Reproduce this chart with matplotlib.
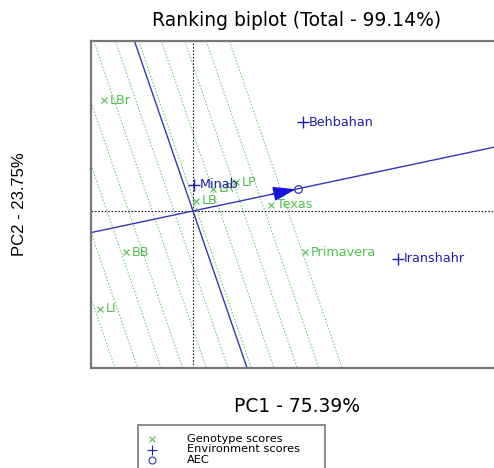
import numpy as np
import matplotlib
matplotlib.use("Agg")
from matplotlib import pyplot as plt
from matplotlib.patches import Rectangle
from matplotlib.lines import Line2D

# genotype scores (PC1, PC2)
gen_names = ['LBr', 'LR', 'LP', 'LB', 'Texas', 'Primavera', 'BB', 'LI']
gen_x = [-1.745, 0.39, 0.84, 0.06, 1.53, 2.20, -1.31, -1.82]
gen_y = [2.775, 0.55, 0.725, 0.25, 0.15, -1.025, -1.025, -2.45]

# environment scores
env_names = ['Behbahan', 'Minab', 'Iranshahr']
env_x = [2.16, 0.02, 4.02]
env_y = [2.225, 0.65, -1.20]

# positions of the ranking lines along the AEC axis
rank_t = [-2.50, -2.07, -1.63, -1.22, -0.77, -0.36, 0.08, 0.51, 0.95, 1.36, 1.80]

title = 'Ranking biplot (Total - 99.14%)'
xlab = 'PC1 - 75.39%'
ylab = 'PC2 - 23.75%'
legend_labels = ['Genotype scores', 'Environment scores', 'AEC']

green = '#4fc04f'
green_line = '#7ccf7c'
blue = '#1e1eaa'
blue_line = '#3535bb'

W, H = 494, 468
fig = plt.figure(figsize=(W / 100, H / 100), dpi=100)
ax = fig.add_axes([91 / W, 100 / H, 410 / W, 327 / H])
ax.set_xlim(-2.0, 6.04)
ax.set_ylim(-3.925, 4.25)
ax.set_xticks([])
ax.set_yticks([])
for s in ax.spines.values():
    s.set_color('#777777')
    s.set_linewidth(1.6)

# average environment coordinate
aec_x = np.mean(env_x)
aec_y = np.mean(env_y)
n = np.hypot(aec_x, aec_y)
ux, uy = aec_x / n, aec_y / n

# ranking lines perpendicular to the AEC
for t in rank_t:
    ax.axline((t * ux, t * uy), slope=-ux / uy, color=green_line, lw=0.8,
              ls=(0, (1.5, 1.5)), zorder=1)

# origin lines
ax.axhline(0, color='#222222', lw=0.8, ls=(0, (1.5, 1.5)), zorder=1)
ax.axvline(0, color='#222222', lw=0.8, ls=(0, (1.5, 1.5)), zorder=1)

# AEC abscissa and ordinate
ax.axline((0, 0), (aec_x, aec_y), color=blue_line, lw=1.0, zorder=2)
ax.axline((0, 0), slope=-aec_x / aec_y, color=blue_line, lw=1.0, zorder=2)

ax.annotate('', xy=(aec_x, aec_y), xytext=(aec_x - 0.6 * ux, aec_y - 0.6 * uy),
            arrowprops=dict(arrowstyle='-|>,head_length=1.4,head_width=0.45',
                            color='#1515dd', lw=1.0, mutation_scale=10),
            zorder=3)
ax.plot([aec_x], [aec_y], marker='o', ms=5.5, mfc='none', mec=blue_line,
        mew=0.9, ls='none', zorder=4)

# genotypes
ax.plot(gen_x, gen_y, ls='none', marker='x', ms=4.5, mew=0.8, color=green, zorder=3)
for name, x, y in zip(gen_names, gen_x, gen_y):
    ax.annotate(name, (x, y), xytext=(4, 0), textcoords='offset points',
                ha='left', va='center', color=green, fontsize=9.2, zorder=3)

# environments
ax.plot(env_x, env_y, ls='none', marker='+', ms=8, mew=1.0, color=blue, zorder=5)
for name, x, y in zip(env_names, env_x, env_y):
    ax.annotate(name, (x, y), xytext=(4, 0), textcoords='offset points',
                ha='left', va='center', color=blue, fontsize=9.2, zorder=5)

# titles
fig.text(297 / W, 1 - 21 / H, title, ha='center', va='center', fontsize=13.5)
fig.text(297 / W, 1 - 407 / H, xlab, ha='center', va='center', fontsize=13.5)
fig.text(20 / W, 1 - 204 / H, ylab, ha='center', va='center', fontsize=12,
         rotation=90, family='Liberation Sans')

# legend (drawn by hand, R style)
fig.patches.append(Rectangle((138 / W, -0.05), 187 / W, 1 - 425 / H + 0.05,
                             transform=fig.transFigure, fill=False,
                             ec='#777777', lw=1.2))
leg_marker = ['x', '+', 'o']
leg_color = [green, blue, blue_line]
leg_ms = [4, 7, 5]
for i, lab in enumerate(legend_labels):
    yy = 1 - (439 + 10.5 * i) / H
    fig.add_artist(Line2D([152 / W], [yy], transform=fig.transFigure,
                          marker=leg_marker[i], ms=leg_ms[i], mew=0.8,
                          mfc='none', color=leg_color[i], ls='none'))
    fig.text(187 / W, yy, lab, ha='left', va='center', fontsize=8.2)

fig.savefig('out.png', dpi=100)
